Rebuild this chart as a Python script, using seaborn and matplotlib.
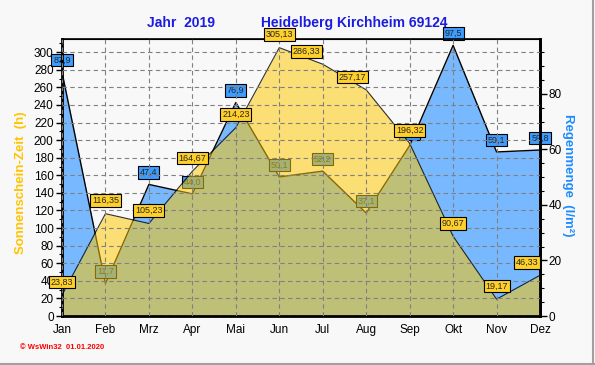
import numpy as np
import pandas as pd
import seaborn as sns
import matplotlib.pyplot as plt
from matplotlib import ticker
from matplotlib.lines import Line2D

months = ['Jan', 'Feb', 'Mrz', 'Apr', 'Mai', 'Jun', 'Jul', 'Aug', 'Sep', 'Okt', 'Nov', 'Dez']
sun = [23.83, 116.35, 105.23, 164.67, 214.23, 305.13, 286.33, 257.17, 196.32, 90.67, 19.17, 46.33]
rain = [87.9, 11.7, 47.4, 44.0, 76.9, 50.1, 52.2, 37.1, 61.4, 97.5, 59.1, 59.8]

df = pd.DataFrame({'month': months, 'sun': sun, 'rain': rain})
df['pos'] = np.arange(len(df))

sns.set_style('white')
plt.rcParams['font.family'] = ['Liberation Sans', 'DejaVu Sans']

blue_fill = '#78b8ff'
sun_fill = '#ffc800'
title_blue = '#1c1ce0'

fig = plt.figure(figsize=(5.95, 3.65), dpi=100, facecolor='#f8f8f8')
ax = fig.add_axes([0.1042, 0.1342, 0.8034, 0.759])
ax2 = ax.twinx()
ax.set_zorder(ax2.get_zorder() + 1)
ax.patch.set_visible(False)
ax2.patch.set_facecolor('white')

# rain (right axis), drawn underneath
ax2.fill_between(df['pos'], df['rain'], color=blue_fill, lw=0, zorder=1)
sns.lineplot(data=df, x='pos', y='rain', ax=ax2, color='black', lw=1, zorder=2)
for p, v in zip(df['pos'], df['rain']):
  ax2.annotate(f'{v:.1f}'.replace('.', ','), (p, v), xytext=(0, 12), textcoords='offset pixels',
               ha='center', va='center', fontsize=6.5, zorder=4, annotation_clip=False,
               bbox=dict(boxstyle='square,pad=0.2', fc='#3c9cff', ec='black', lw=0.8))

# sunshine (left axis), translucent on top
ax.fill_between(df['pos'], df['sun'], color=sun_fill, alpha=0.53, lw=0, zorder=1)
sns.lineplot(data=df, x='pos', y='sun', ax=ax, color='black', lw=0.8, alpha=0.8, zorder=2)
sun_dx = {6: -16, 7: -14, 11: -13}
for i, (p, v) in enumerate(zip(df['pos'], df['sun'])):
  ax.annotate(f'{v:.2f}'.replace('.', ','), (p, v), xytext=(sun_dx.get(i, 0), 13), textcoords='offset pixels',
              ha='center', va='center', fontsize=6.5, zorder=6, annotation_clip=False,
              bbox=dict(boxstyle='square,pad=0.2', fc='#ffd02a', ec='black', lw=0.8))

ax.set_xlim(0, 11)
ax.set_ylim(0, 315)
ax2.set_ylim(0, 99.8)
ax.set_xticks(df['pos'])
ax.set_xticklabels(df['month'], fontsize=8.5)
ax.xaxis.set_minor_locator(ticker.AutoMinorLocator(4))
ax.yaxis.set_major_locator(ticker.MultipleLocator(20))
ax.yaxis.set_minor_locator(ticker.MultipleLocator(10))
ax2.yaxis.set_major_locator(ticker.MultipleLocator(20))
ax2.yaxis.set_minor_locator(ticker.MultipleLocator(5))
ax.tick_params(axis='both', which='major', direction='out', length=4, width=1, colors='black', labelsize=8.5, pad=2)
ax.tick_params(axis='both', which='minor', direction='out', length=2.5, width=0.8, colors='black')
ax2.tick_params(axis='y', which='major', direction='out', length=5, width=1, colors='black', labelsize=8.5, pad=1)
ax2.tick_params(axis='y', which='minor', direction='out', length=3, width=0.8, colors='black')
ax.set_xlabel(None)
ax.set_ylabel(None)
ax2.set_xlabel(None)
ax2.set_ylabel(None)

ax.set_axisbelow(False)
ax.grid(True, which='major', color='#808080', lw=0.8, linestyle=(0, (4, 3)))
for a in (ax, ax2):
  for s in a.spines.values():
    s.set_color('black')
ax.spines['left'].set_linewidth(2)
ax.spines['bottom'].set_linewidth(2)
ax.spines['top'].set_linewidth(1.2)
ax.spines['right'].set_linewidth(2)
ax2.spines['right'].set_linewidth(2)

fig.text(0.305, 0.937, 'Jahr  2019', color=title_blue, fontsize=10, fontweight='bold', ha='center', va='center')
fig.text(0.595, 0.937, 'Heidelberg Kirchheim 69124', color=title_blue, fontsize=10, fontweight='bold', ha='center', va='center')
fig.text(0.036, 0.50, 'Sonnenschein-Zeit  (h)', color='#ffc400', fontsize=9.5, fontweight='bold',
         rotation=90, ha='center', va='center')
fig.text(0.955, 0.52, 'Regenmenge  (l/m²)', color='#1e8cff', fontsize=9.5, fontweight='bold',
         rotation=270, ha='center', va='center')
fig.text(0.033, 0.047, '© WsWin32  01.01.2020', color='red', fontsize=5.5, fontweight='bold', ha='left', va='center')

fig.add_artist(Line2D([0, 1], [0.004, 0.004], color='#a0a0a0', lw=1.5, transform=fig.transFigure))
fig.add_artist(Line2D([0.997, 0.997], [0, 1], color='#a0a0a0', lw=1.5, transform=fig.transFigure))

fig.savefig('out.png', dpi=100, facecolor=fig.get_facecolor())
